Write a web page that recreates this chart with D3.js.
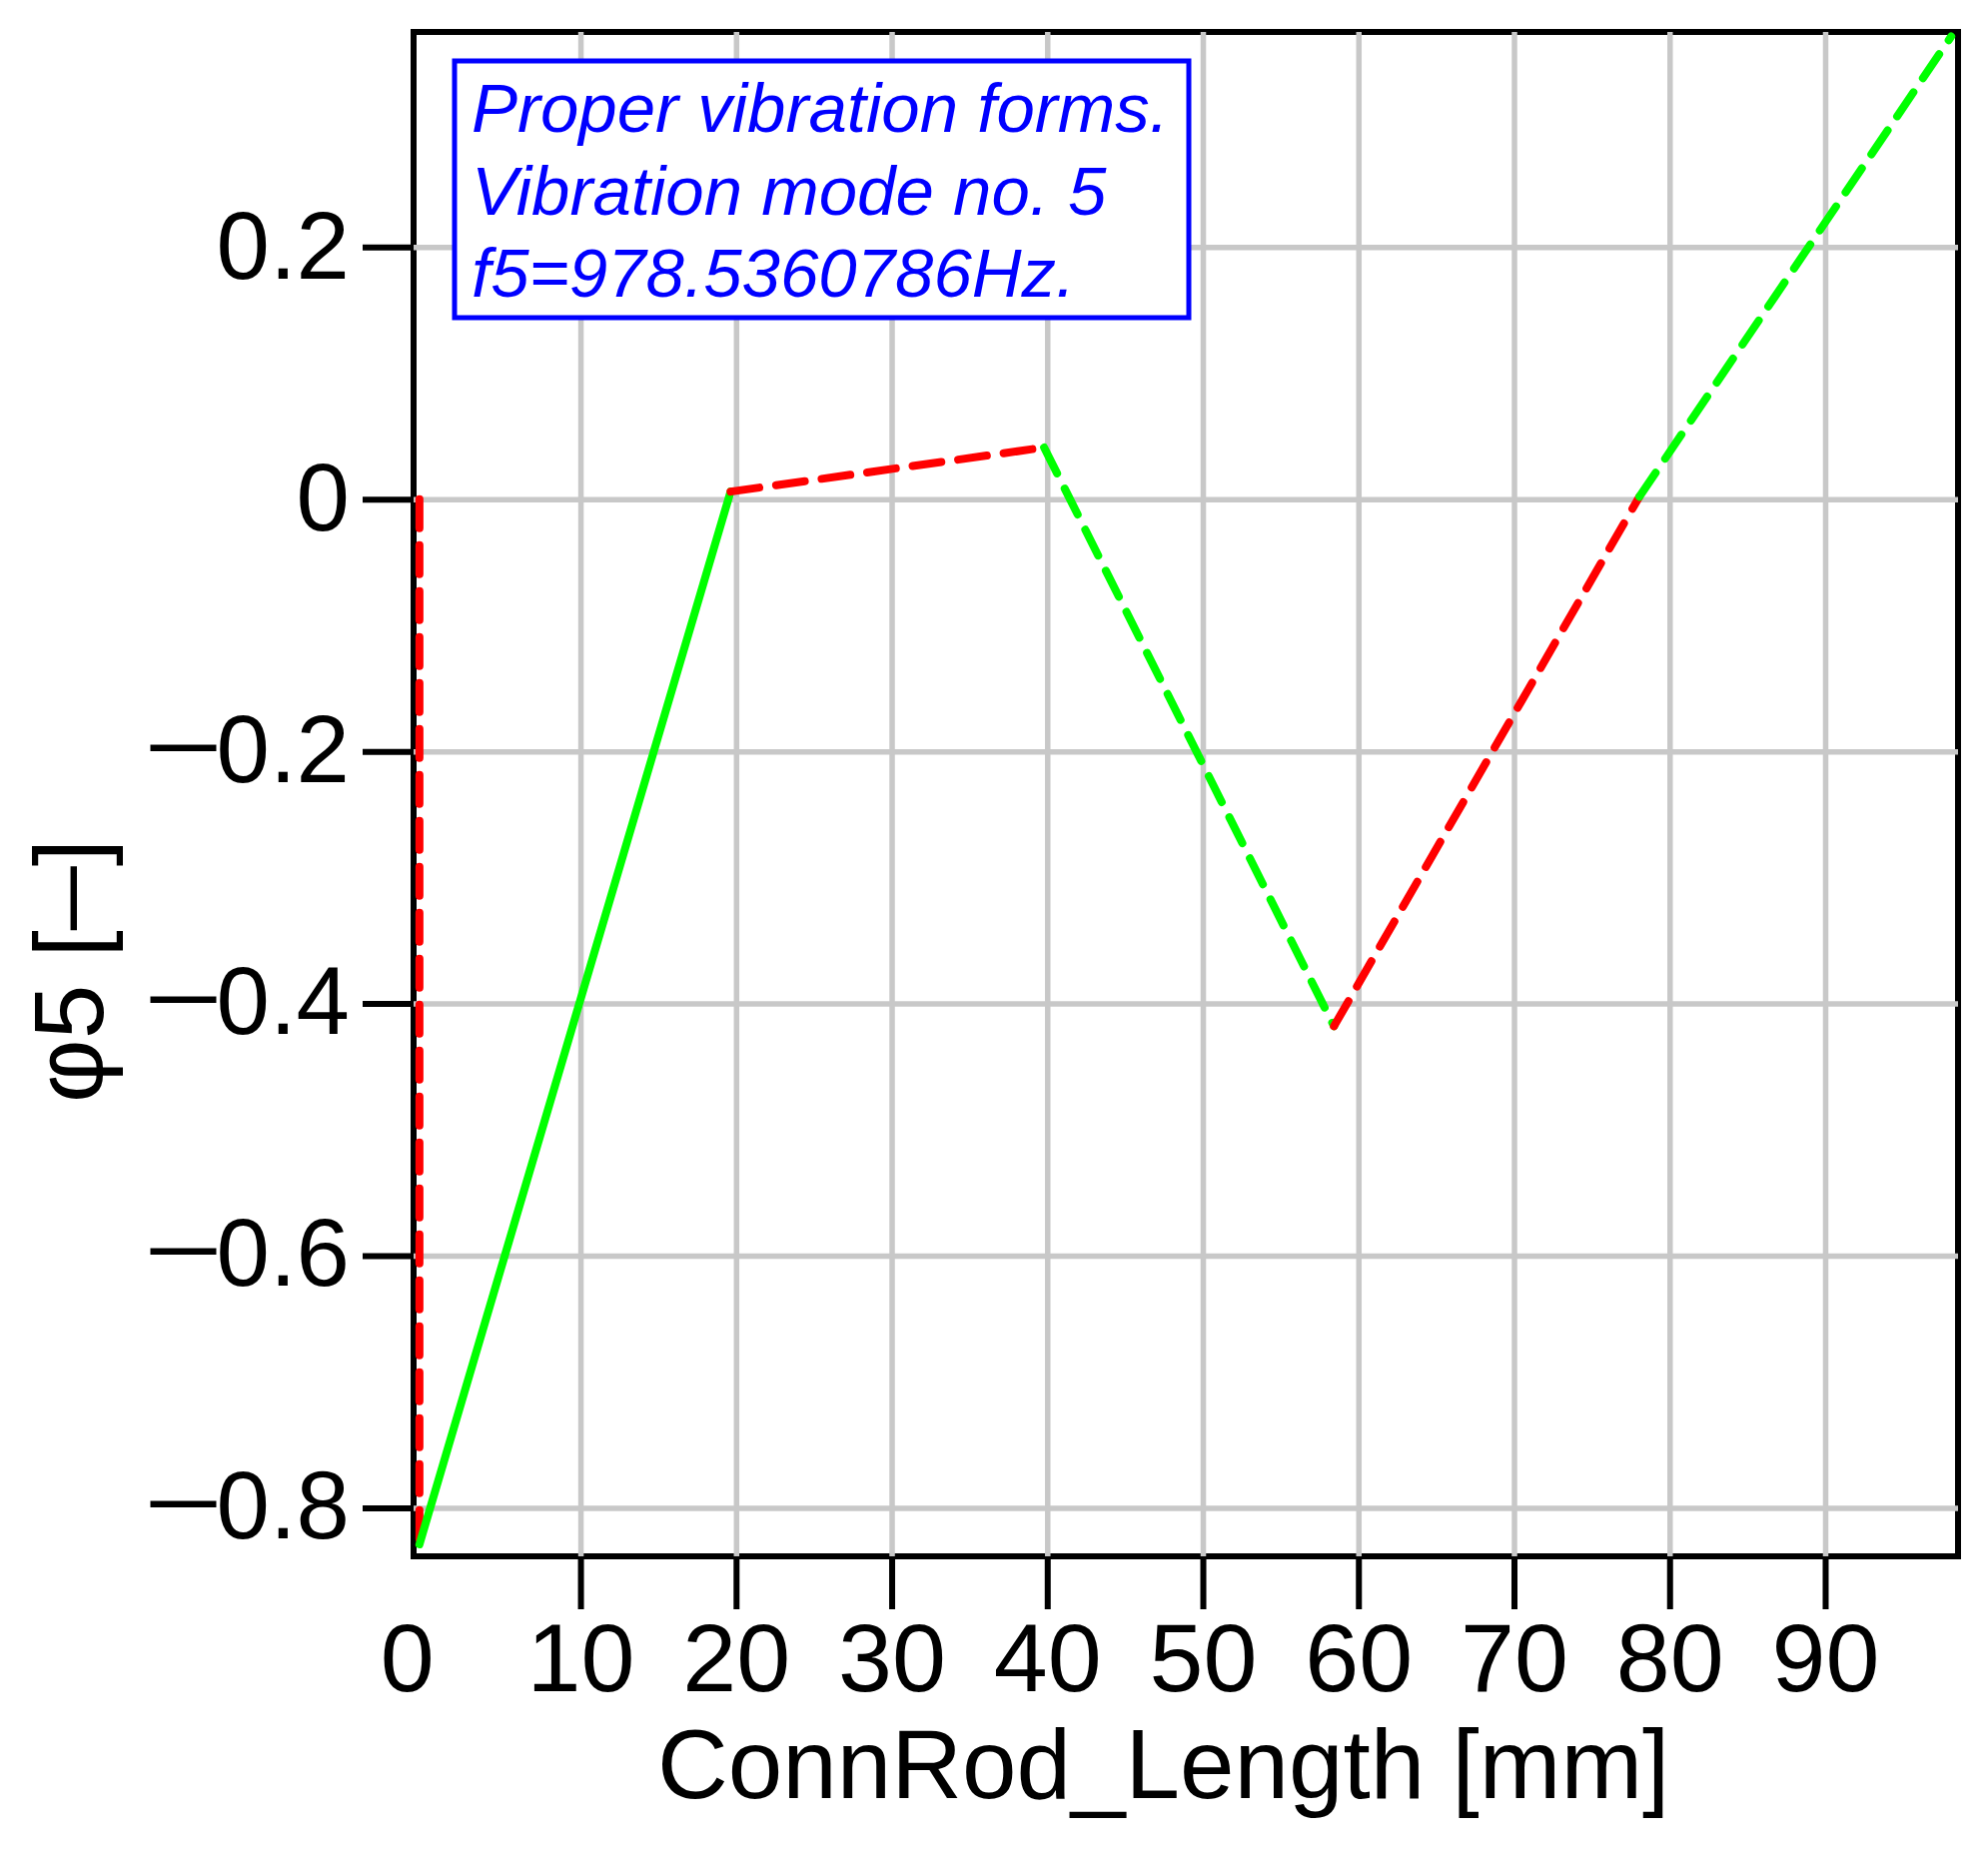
<!DOCTYPE html>
<html>
<head>
<meta charset="utf-8">
<script src="https://cdn.jsdelivr.net/npm/d3@7"></script>
<style>
  body { margin: 0; background: #fff; }
  svg { display: block; font-family: "Liberation Sans", Arial, sans-serif; }
</style>
</head>
<body>
<div class="canvas"></div>
<script>
const svgWidth = 1990;
const svgHeight = 1856;
const margin = { top: 32, right: 30, bottom: 298, left: 414 };
const graphWidth = svgWidth - margin.left - margin.right;
const graphHeight = svgHeight - margin.top - margin.bottom;

// mode shape nodes (ConnRod_Length [mm], phi5)
const nodeX = [-0.35, -0.35, 19.65, 39.8, 58.43, 78.06, 98.1];
const nodeY = [0, -0.829, 0.006, 0.041, -0.418, 0.002, 0.367];
// one entry per segment between nodes
const segColor = ['#ff0000', '#00ff00', '#ff0000', '#00ff00', '#ff0000', '#00ff00'];
const segDashed = [true, false, true, true, true, true];

const xTicks = [0, 10, 20, 30, 40, 50, 60, 70, 80, 90];
const yTicks = [0.2, 0, -0.2, -0.4, -0.6, -0.8];
const xDomain = [-0.726, 98.54];
const yDomain = [-0.8385, 0.3706];

const noteLines = ['Proper vibration forms.', 'Vibration mode no. 5', 'f5=978.5360786Hz.'];
const xTitle = 'ConnRod_Length [mm]';
const yTitle = ['φ5 [', '—', ']'];

const svg = d3.select('.canvas')
  .append('svg')
    .attr('width', svgWidth)
    .attr('height', svgHeight);

svg.append('rect').attr('width', svgWidth).attr('height', svgHeight).attr('fill', '#fff');

const g = svg.append('g')
  .attr('transform', `translate(${margin.left}, ${margin.top})`);

// Scale setup:
const x = d3.scaleLinear().domain(xDomain).range([0, graphWidth]);
const y = d3.scaleLinear().domain(yDomain).range([graphHeight, 0]);

// frame
g.append('rect')
  .attr('width', graphWidth)
  .attr('height', graphHeight)
  .attr('fill', 'none')
  .attr('stroke', '#000')
  .attr('stroke-width', 6);

// grid
const gridX = g.append('g')
  .attr('transform', `translate(0, ${graphHeight})`)
  .call(d3.axisBottom(x).tickValues(xTicks.filter(d => d !== 0)).tickSize(-graphHeight).tickFormat(''));
const gridY = g.append('g')
  .call(d3.axisLeft(y).tickValues(yTicks).tickSize(-graphWidth).tickFormat(''));
[gridX, gridY].forEach(gr => {
  gr.select('.domain').remove();
  gr.selectAll('line').attr('stroke', '#c8c8c8').attr('stroke-width', 5.5);
});

// axes
const xAxisGroup = g.append('g')
  .attr('transform', `translate(0, ${graphHeight})`)
  .call(d3.axisBottom(x).tickValues(xTicks).tickSize(53).tickPadding(13).tickFormat(d3.format('d')));
const yAxisGroup = g.append('g')
  .call(d3.axisLeft(y).tickValues(yTicks).tickSize(51).tickPadding(13)
    .tickFormat(d => d3.format('.1f')(Math.abs(d)).replace('0.0', '0')));

[xAxisGroup, yAxisGroup].forEach(ax => {
  ax.select('.domain').remove();
  ax.selectAll('line').attr('stroke', '#000').attr('stroke-width', 6);
  ax.selectAll('text')
    .attr('fill', '#000')
    .style('font-size', '97px')
    .style('font-family', '"Liberation Sans", Arial, sans-serif');
});
yAxisGroup.selectAll('text').attr('dy', '0.32em').style('font-size', '96px');

// long minus sign like the original plot
yAxisGroup.selectAll('.tick text').each(function (d) {
  if (d >= 0) return;
  const t = d3.select(this);
  const num = t.text();
  t.text('');
  t.append('tspan').attr('dy', 14).style('font-size', '66px').style('font-weight', 'bold').text('—');
  t.append('tspan').attr('dy', 16).text(num);
});

// the 0 label sits at the left corner, no tick mark there
const zeroTick = xAxisGroup.selectAll('.tick').filter(d => d === 0);
zeroTick.select('line').remove();
zeroTick.select('text').attr('x', -18);

// annotation box
const note = g.append('g').attr('transform', 'translate(41, 29)');
note.append('rect')
  .attr('width', 735)
  .attr('height', 257)
  .attr('fill', '#fff')
  .attr('stroke', '#0000ff')
  .attr('stroke-width', 5);
note.selectAll('text')
  .data(noteLines)
  .join('text')
    .attr('x', 17)
    .attr('y', (d, i) => 71 + i * 82.5)
    .attr('fill', '#0000ff')
    .style('font-size', '69px')
    .style('font-style', 'italic')
    .text(d => d);

// mode shape segments
const segs = segColor.map((c, i) => ({
  x1: nodeX[i], y1: nodeY[i], x2: nodeX[i + 1], y2: nodeY[i + 1],
  color: c, dashed: segDashed[i]
}));

g.selectAll('.seg')
  .data(segs)
  .join('line')
    .attr('class', 'seg')
    .attr('x1', d => x(d.x1))
    .attr('y1', d => y(d.y1))
    .attr('x2', d => x(d.x2))
    .attr('y2', d => y(d.y2))
    .attr('stroke', d => d.color)
    .attr('stroke-width', 8)
    .attr('stroke-linecap', 'round')
    .attr('stroke-dasharray', d => d.dashed ? '29,17' : null);

// axis titles
svg.append('text')
  .attr('x', 658)
  .attr('y', 1800)
  .style('font-size', '98px')
  .attr('fill', '#000')
  .text(xTitle);

const yt = svg.append('text')
  .attr('transform', 'translate(103, 972) rotate(-90)')
  .attr('text-anchor', 'middle')
  .style('font-size', '98px')
  .attr('fill', '#000');
yt.append('tspan').text(yTitle[0]);
yt.append('tspan').attr('dy', -12).style('font-size', '64px').style('font-weight', 'bold').text(yTitle[1]);
yt.append('tspan').attr('dy', 12).text(yTitle[2]);
</script>
</body>
</html>
